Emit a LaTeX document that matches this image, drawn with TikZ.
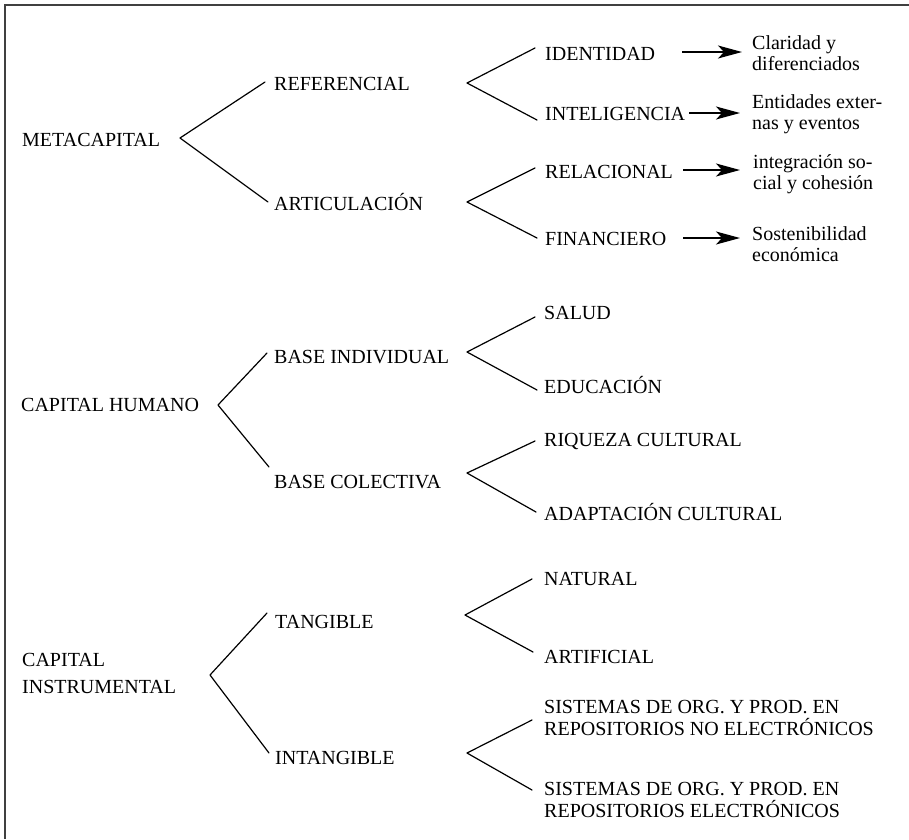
\documentclass[tikz,border=0pt]{standalone}
\usepackage{fontspec}
\setmainfont{Liberation Serif}
\usetikzlibrary{arrows.meta}
\tikzset{
  lbl/.style={anchor=base west, inner sep=0pt, font=\fontsize{20}{24}\selectfont},
  branch/.style={line width=1.2pt, line cap=round, line join=round},
  arr/.style={line width=1.4pt, -{Stealth[length=24pt,width=13pt,inset=6pt]}},
  frameline/.style={line width=2pt, draw=black!75}
}
\begin{document}
\begin{tikzpicture}[x=1pt,y=-1pt]
\useasboundingbox (0,0) rectangle (909,839);
\draw[frameline] (909,5) -- (5,5) -- (5,839);

% ---------- METACAPITAL ----------
\node[lbl] (meta) at (22,146) {METACAPITAL};
\node[lbl] (ref) at (274,90) {REFERENCIAL};
\node[lbl] (art) at (274,210) {ARTICULACIÓN};
\node[lbl] (ident) at (545,60) {IDENTIDAD};
\node[lbl] (intel) at (545,120) {INTELIGENCIA};
\node[lbl] (rel) at (545,178) {RELACIONAL};
\node[lbl] (fin) at (545,245) {FINANCIERO};
\node[lbl] (clarA) at (752,49) {Claridad y};
\node[lbl] (clarB) at (752,70) {diferenciados};
\node[lbl] (entA) at (752,108) {Entidades exter-};
\node[lbl] (entB) at (752,129) {nas y eventos};
\node[lbl] (intA) at (753,168) {integración so-};
\node[lbl] (intB) at (753,189) {cial y cohesión};
\node[lbl] (sosA) at (752,240) {Sostenibilidad};
\node[lbl] (sosB) at (752,261) {económica};

\coordinate (v0) at (180,138);
\coordinate (e0a) at (265,82);
\coordinate (e0b) at (268,202);
\coordinate (v1) at (467,83);
\coordinate (e1a) at (535,48);
\coordinate (e1b) at (537,120);
\coordinate (v2) at (467,202);
\coordinate (e2a) at (535,168);
\coordinate (e2b) at (537,238);
\draw[branch] (e0a) -- (v0) -- (e0b);
\draw[branch] (e1a) -- (v1) -- (e1b);
\draw[branch] (e2a) -- (v2) -- (e2b);

\coordinate (a1s) at (682,52);  \coordinate (a1e) at (742,52);
\coordinate (a2e) at (740,113);
\coordinate (a3s) at (683,170); \coordinate (a3e) at (740,170);
\coordinate (a4s) at (683,238); \coordinate (a4e) at (740,238);
\draw[arr] (a1s) -- (a1e);
\draw[arr] ([xshift=4pt]intel.east |- a2e) -- (a2e);
\draw[arr] (a3s) -- (a3e);
\draw[arr] (a4s) -- (a4e);

% ---------- CAPITAL HUMANO ----------
\node[lbl] (ch) at (21,411) {CAPITAL HUMANO};
\node[lbl] (bi) at (274,363) {BASE INDIVIDUAL};
\node[lbl] (bc) at (274,488) {BASE COLECTIVA};
\node[lbl] (sal) at (544,319) {SALUD};
\node[lbl] (edu) at (544,393) {EDUCACIÓN};
\node[lbl] (riq) at (544,446) {RIQUEZA CULTURAL};
\node[lbl] (adap) at (544,520) {ADAPTACIÓN CULTURAL};

\coordinate (v3) at (218,405);
\coordinate (e3a) at (267,353);
\coordinate (e3b) at (269,467);
\coordinate (v4) at (467,352);
\coordinate (e4a) at (535,317);
\coordinate (e4b) at (537,390);
\coordinate (v5) at (467,473);
\coordinate (e5a) at (535,441);
\coordinate (e5b) at (536,512);
\draw[branch] (e3a) -- (v3) -- (e3b);
\draw[branch] (e4a) -- (v4) -- (e4b);
\draw[branch] (e5a) -- (v5) -- (e5b);

% ---------- CAPITAL INSTRUMENTAL ----------
\node[lbl] (ciA) at (22,666) {CAPITAL};
\node[lbl] (ciB) at (22,693) {INSTRUMENTAL};
\node[lbl] (tang) at (275,628) {TANGIBLE};
\node[lbl] (intang) at (275,764) {INTANGIBLE};
\node[lbl] (nat) at (544,585) {NATURAL};
\node[lbl] (artif) at (544,663) {ARTIFICIAL};
\node[lbl] (s1a) at (544,713) {SISTEMAS DE ORG. Y PROD. EN};
\node[lbl] (s1b) at (544,735) {REPOSITORIOS NO ELECTRÓNICOS};
\node[lbl] (s2a) at (544,795) {SISTEMAS DE ORG. Y PROD. EN};
\node[lbl] (s2b) at (544,817) {REPOSITORIOS ELECTRÓNICOS};

\coordinate (v6) at (210,675);
\coordinate (e6a) at (267,613);
\coordinate (e6b) at (269,753);
\coordinate (v7) at (465,615);
\coordinate (e7a) at (532,579);
\coordinate (e7b) at (533,652);
\coordinate (v8) at (467,753);
\coordinate (e8a) at (532,720);
\coordinate (e8b) at (532,790);
\draw[branch] (e6a) -- (v6) -- (e6b);
\draw[branch] (e7a) -- (v7) -- (e7b);
\draw[branch] (e8a) -- (v8) -- (e8b);
\end{tikzpicture}
\end{document}
